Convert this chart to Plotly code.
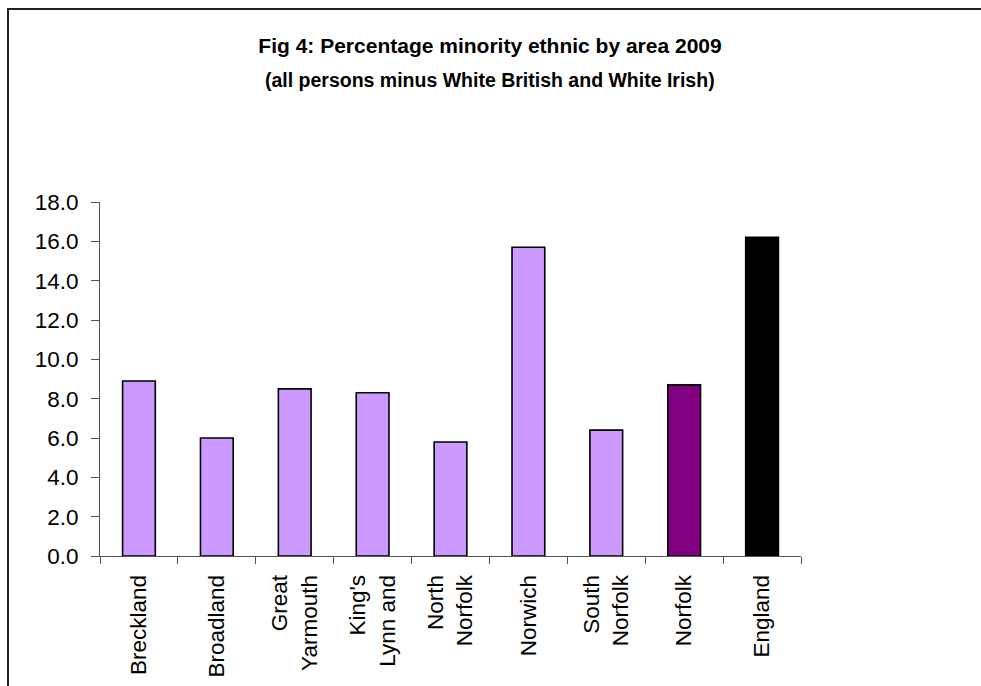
import plotly.graph_objects as go

categories = ["Breckland", "Broadland", "Great<br>Yarmouth", "King's<br>Lynn and",
              "North<br>Norfolk", "Norwich", "South<br>Norfolk", "Norfolk", "England"]
values = [8.9, 6.0, 8.5, 8.3, 5.8, 15.7, 6.4, 8.7, 16.2]
bar_colors = ["#CC99FF"] * 7 + ["#800080", "#000000"]
y_ticks = [0, 2, 4, 6, 8, 10, 12, 14, 16, 18]

title_line1 = "Fig 4: Percentage minority ethnic by area 2009"
title_line2 = "(all persons minus White British and White Irish)"

FONT = "Liberation Sans, Arial, sans-serif"

fig = go.Figure(go.Bar(
    x=categories, y=values,
    marker=dict(color=bar_colors, line=dict(color="#000000", width=1.6)),
    width=0.42,
))

fig.update_layout(
    width=981, height=686,
    margin=dict(l=100, r=180, t=202, b=130, autoexpand=False),
    paper_bgcolor="white", plot_bgcolor="white",
    showlegend=False,
    font=dict(family=FONT, color="#000000", size=22),
    title=dict(text="<b>" + title_line1 + "</b>", x=490 / 981, xanchor="center",
               y=1 - 46 / 686, yanchor="middle", yref="container",
               font=dict(family=FONT, size=21, color="#000000")),
    annotations=[dict(text="<b>" + title_line2 + "</b>", xref="paper", yref="paper",
                      x=(490 - 100) / 701, y=(556 - 80) / 354, xanchor="center",
                      yanchor="middle", showarrow=False,
                      font=dict(family=FONT, size=19.5, color="#000000"))],
    shapes=[dict(type="rect", xref="paper", yref="paper", xsizemode="pixel",
                 ysizemode="pixel", xanchor=0, yanchor=0,
                 x0=-92, x1=900, y0=-300, y1=547,
                 line=dict(color="#222222", width=2), fillcolor="rgba(0,0,0,0)",
                 layer="below")],
)

fig.update_xaxes(
    type="category", showline=True, linecolor="#555555", linewidth=1,
    ticks="outside", tickson="boundaries", ticklen=7, tickcolor="#555555",
    tickangle=-90, showgrid=False, tickfont=dict(size=22.5),
    ticklabelstandoff=9, automargin=False,
)
fig.update_yaxes(
    range=[0, 18], tickvals=y_ticks, tickformat=".1f",
    showline=True, linecolor="#555555", linewidth=1,
    ticks="outside", ticklen=8, tickcolor="#555555",
    showgrid=False, zeroline=False, tickfont=dict(size=22.5),
    ticklabelstandoff=8, automargin=False,
)

fig.write_html("out.html")
